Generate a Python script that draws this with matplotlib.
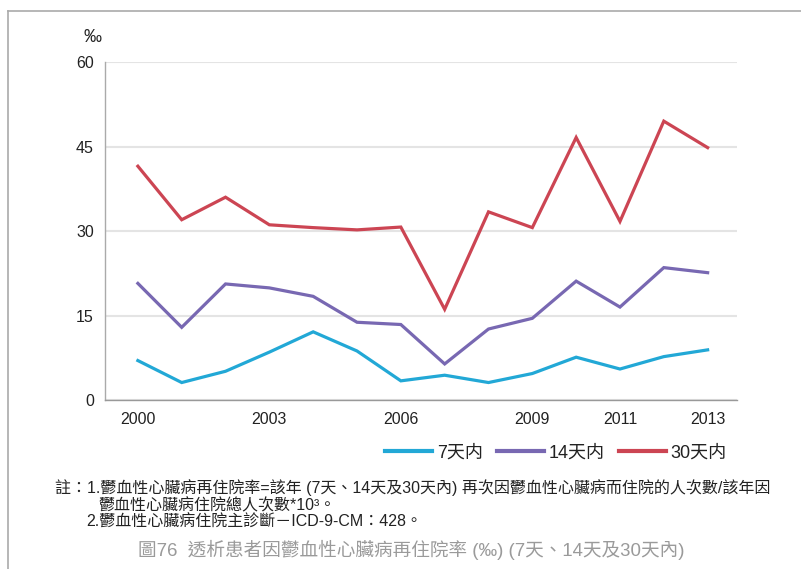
import matplotlib
matplotlib.use("Agg")
import matplotlib.pyplot as plt
from matplotlib.lines import Line2D

plt.rcParams['font.family'] = ['Liberation Sans', 'Noto Sans CJK TC', 'DejaVu Sans']

years = list(range(2000, 2014))
d7 = [7.0, 3.1, 5.1, 8.5, 12.1, 8.7, 3.4, 4.4, 3.1, 4.7, 7.6, 5.5, 7.7, 8.9]
d14 = [20.7, 12.9, 20.6, 19.9, 18.4, 13.8, 13.4, 6.4, 12.6, 14.5, 21.1, 16.5, 23.5, 22.6]
d30 = [41.5, 32.0, 36.0, 31.1, 30.6, 30.2, 30.7, 16.1, 33.4, 30.6, 46.6, 31.7, 49.5, 44.8]
series_names = ['7天内', '14天内', '30天内']
colors = ['#22a8d6', '#7868b2', '#cc4553']
xticks = [2000, 2003, 2006, 2009, 2011, 2013]
yticks = [0, 15, 30, 45, 60]

note1 = '註：1.鬱血性心臟病再住院率=該年 (7天、14天及30天內) 再次因鬱血性心臟病而住院的人次數/該年因'
note2 = '鬱血性心臟病住院總人次數*10³。'
note3 = '2.鬱血性心臟病住院主診斷－ICD-9-CM：428。'
caption = '圖76  透析患者因鬱血性心臟病再住院率 (‰) (7天、14天及30天內)'

W, H = 801, 569
fig = plt.figure(figsize=(W/100, H/100), dpi=100)
ax = fig.add_axes([105/W, 1-400/H, (737-105)/W, (400-62)/H])

for vals, name, c in zip([d7, d14, d30], series_names, colors):
    ax.plot(years, vals, color=c, lw=2.3, label=name, solid_joinstyle='miter')

ax.set_xlim(1999.25, 2013.67)
ax.set_ylim(0, 60)
ax.set_yticks(yticks)
ax.set_xticks(xticks)
ax.tick_params(length=0, labelsize=11.5, colors='#222222')
ax.tick_params(axis='y', pad=8)
ax.tick_params(axis='x', pad=9)
ax.grid(axis='y', color='#e4e4e4', lw=1.5)
ax.set_axisbelow(True)
for s in ['top', 'right']:
    ax.spines[s].set_visible(False)
ax.spines['left'].set_color('#aaaaaa')
ax.spines['bottom'].set_color('#999999')
ax.spines['left'].set_linewidth(1.0)
ax.spines['bottom'].set_linewidth(1.0)

fig.text(93/W, 1-37/H, '‰', fontsize=13, color='#222222', ha='center', va='center')

leg = fig.legend(loc='center', bbox_to_anchor=(556/W, 1-453/H), ncol=3, frameon=False,
                 fontsize=13, handlelength=2.6, handletextpad=0.25, columnspacing=0.8)
for t in leg.get_texts():
    t.set_color('#222222')
for h in leg.legend_handles:
    h.set_linewidth(3.0)

fig.text(55/W, 1-488/H, note1, fontsize=11.5, color='#222222', va='center', ha='left')
fig.text(98/W, 1-506/H, note2, fontsize=11.5, color='#222222', va='center', ha='left')
fig.text(86/W, 1-522/H, note3, fontsize=11.5, color='#222222', va='center', ha='left')
fig.text(138/W, 1-550/H, caption, fontsize=13.4, color='#9a9a9a', va='center', ha='left')

# frame lines
fig.add_artist(Line2D([8/W, 1], [1-11/H, 1-11/H], color='#aaaaaa', lw=1.2, transform=fig.transFigure))
fig.add_artist(Line2D([8/W, 8/W], [0, 1-11/H], color='#aaaaaa', lw=1.2, transform=fig.transFigure))

fig.savefig('out.png', dpi=100)
